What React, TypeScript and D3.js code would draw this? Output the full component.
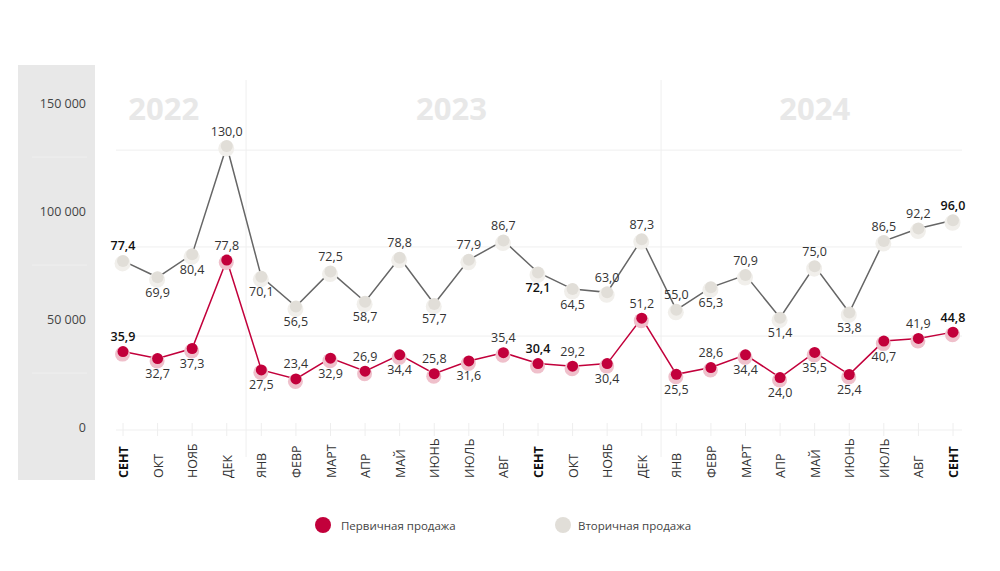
import React from "react";
import * as d3 from "d3";

const months = [
  "СЕНТ", "ОКТ", "НОЯБ", "ДЕК",
  "ЯНВ", "ФЕВР", "МАРТ", "АПР", "МАЙ", "ИЮНЬ", "ИЮЛЬ", "АВГ", "СЕНТ", "ОКТ", "НОЯБ", "ДЕК",
  "ЯНВ", "ФЕВР", "МАРТ", "АПР", "МАЙ", "ИЮНЬ", "ИЮЛЬ", "АВГ", "СЕНТ",
];
const primary = [35.9, 32.7, 37.3, 77.8, 27.5, 23.4, 32.9, 26.9, 34.4, 25.8, 31.6, 35.4, 30.4, 29.2, 30.4, 51.2, 25.5, 28.6, 34.4, 24.0, 35.5, 25.4, 40.7, 41.9, 44.8];
const secondary = [77.4, 69.9, 80.4, 130.0, 70.1, 56.5, 72.5, 58.7, 78.8, 57.7, 77.9, 86.7, 72.1, 64.5, 63.0, 87.3, 55.0, 65.3, 70.9, 51.4, 75.0, 53.8, 86.5, 92.2, 96.0];
const highlighted = [0, 12, 24];
const years = ["2022", "2023", "2024"];
const yearStartIndex = [0, 4, 16];
const yAxisTicks = ["150 000", "100 000", "50 000", "0"];
const gridValues = [0, 43, 83.8, 128.1];
const seriesNames = ["Первичная продажа", "Вторичная продажа"];

// label placement: 1 = above, -1 = below
const primaryLabelSide = [1, -1, -1, 1, -1, 1, -1, 1, -1, 1, -1, 1, 1, 1, -1, 1, -1, 1, -1, -1, -1, -1, -1, 1, 1];
const secondaryLabelSide = [1, -1, -1, 1, -1, -1, 1, -1, 1, -1, 1, 1, -1, -1, 1, 1, 1, -1, 1, -1, 1, -1, 1, 1, 1];

const W = 1000;
const H = 571;
const FONT = "'Open Sans', 'Noto Sans', sans-serif";
const RED = "#c2003b";
const RED_HALO = "#efc0cb";
const GREY = "#e1ded8";
const GREY_HALO = "#f1efeb";
const GREY_LINE = "#666666";

const fmt = (v: number) => v.toFixed(1).replace(".", ",");

export default function App() {
  const idx = months.map((_, i) => i);
  const x = d3.scalePoint<number>().domain(idx).range([123, 953]);
  const y = d3.scaleLinear().domain([0, 130]).range([430, 146]);
  const yAx = d3.scalePoint<string>().domain(yAxisTicks).range([103, 427]);

  const line = d3
    .line<number>()
    .x((_, i) => x(i)!)
    .y((d) => y(d));

  const step = x.step();
  const dividers = yearStartIndex.slice(1).map((s) => x(s)! - step / 2 + 2);
  const yearCenters = [
    x(0)! + step * 1.18,
    (x(4)! + x(15)!) / 2,
    (x(16)! + x(24)!) / 2,
  ];

  const panelLines = yAxisTicks.slice(0, 3).map((t) => yAx(t)! + yAx.step() / 2);

  const renderSeries = (
    vals: number[],
    color: string,
    halo: string,
    lineColor: string,
    sides: number[],
    r: number
  ) => (
    <g>
      <path d={line(vals) || ""} fill="none" stroke={lineColor} strokeWidth={1.5} />
      {vals.map((v, i) => (
        <circle key={"h" + i} cx={x(i)! - 0.5} cy={y(v) + 2.5} r={r + 2} fill={halo} />
      ))}
      {vals.map((v, i) => (
        <circle key={"c" + i} cx={x(i)!} cy={y(v)} r={r} fill={color} />
      ))}
      {vals.map((v, i) => {
        const bold = highlighted.includes(i);
        return (
          <text
            key={"t" + i}
            x={x(i)!}
            y={y(v) - sides[i] * 15}
            textAnchor="middle"
            dominantBaseline="central"
            fontSize={12.5}
            fontWeight={bold ? 600 : 400}
            fill={bold ? "#111" : "#333"}
          >
            {fmt(v)}
          </text>
        );
      })}
    </g>
  );

  return (
    <svg
      width={W}
      height={H}
      viewBox={`0 0 ${W} ${H}`}
      style={{ position: "absolute", left: 0, top: 0, display: "block", background: "#fff" }}
      fontFamily={FONT}
    >
      {/* left grey panel */}
      <rect x={18} y={65} width={77} height={415} fill="#e8e8e8" />
      {panelLines.map((py, i) => (
        <line key={i} x1={32} x2={87} y1={py} y2={py} stroke="#efefef" strokeWidth={1} />
      ))}
      {yAxisTicks.map((t) => (
        <text
          key={t}
          x={86}
          y={yAx(t)!}
          textAnchor="end"
          dominantBaseline="central"
          fontSize={12.5}
          fill="#444"
        >
          {t}
        </text>
      ))}

      {/* year labels */}
      {years.map((yr, i) => (
        <text
          key={yr}
          x={yearCenters[i]}
          y={108}
          textAnchor="middle"
          dominantBaseline="central"
          fontSize={31}
          fontWeight={700}
          fill="#e8e8e8"
        >
          {yr}
        </text>
      ))}

      {/* grid */}
      {gridValues.map((g, i) => (
        <line key={i} x1={116} x2={962} y1={y(g)} y2={y(g)} stroke="#efefef" strokeWidth={1} />
      ))}
      {dividers.map((dx, i) => (
        <line key={i} x1={dx} x2={dx} y1={80} y2={457} stroke="#efefef" strokeWidth={1} />
      ))}
      {idx.map((i) => (
        <line key={i} x1={x(i)!} x2={x(i)!} y1={423} y2={436} stroke="#eeeeee" strokeWidth={1} />
      ))}

      {/* x labels */}
      {months.map((m, i) => {
        const bold = highlighted.includes(i);
        return (
          <text
            key={i}
            transform={`translate(${x(i)! + 0.5},478) rotate(-90)`}
            textAnchor="start"
            dominantBaseline="central"
            fontSize={12.5}
            fontWeight={bold ? 700 : 400}
            fill={bold ? "#111" : "#333"}
          >
            {m}
          </text>
        );
      })}

      {renderSeries(secondary, GREY, GREY_HALO, GREY_LINE, secondaryLabelSide, 6)}
      {renderSeries(primary, RED, RED_HALO, RED, primaryLabelSide, 5.5)}

      {/* legend */}
      <circle cx={323} cy={525} r={8} fill={RED} />
      <text x={341} y={525} dominantBaseline="central" fontSize={11.5} fill="#444">
        {seriesNames[0]}
      </text>
      <circle cx={563} cy={525} r={8} fill={GREY} />
      <text x={578} y={525} dominantBaseline="central" fontSize={11.5} fill="#444">
        {seriesNames[1]}
      </text>
    </svg>
  );
}
